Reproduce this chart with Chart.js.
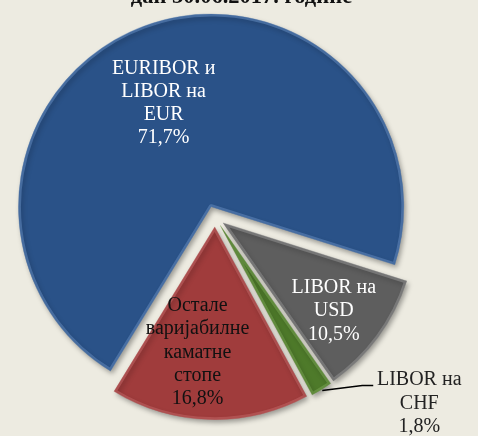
<!DOCTYPE html>
<html>
<head>
<meta charset="utf-8">
<script src="https://cdn.jsdelivr.net/npm/chart.js@4"></script>
<style>
  html, body { margin: 0; padding: 0; background: #EDEBE1; }
</style>
</head>
<body>
<canvas id="c" width="478" height="436"></canvas>
<script>
// ---- data ----
const titleText = 'дан 30.06.2017. године';
const categories = ['EURIBOR и LIBOR на EUR', 'LIBOR на USD', 'LIBOR на CHF', 'Остале варијабилне каматне стопе'];
const labelLines = [['EURIBOR и', 'LIBOR на', 'EUR'], ['LIBOR на', 'USD'], ['LIBOR на', 'CHF'], ['Остале', 'варијабилне', 'каматне', 'стопе']];
const shares = [71.7, 10.5, 1.8, 16.8];

// ---- styles ----
const fillColors = ['#2A5288', '#5E5E5E', '#4E7A2A', '#A03C3C'];
const edgeColors = ['rgba(110,150,205,0.45)', 'rgba(160,160,160,0.45)', 'rgba(130,175,90,0.45)', 'rgba(205,110,110,0.45)'];
const textColors = ['#FFFFFF', '#FFFFFF', '#222222', '#111111'];
const explode = [11, 10, 10, 10];            // px each slice is pulled out
const labelPlace = [[-4.2, 0.59], [2.25, 0.734], null, [6.3, 0.656]]; // [angle shift deg, distance / radius]

const fmt = v => v.toFixed(1).replace('.', ',') + '%';

const bgPlugin = {
  id: 'bg',
  beforeDraw(chart) {
    const ctx = chart.ctx;
    ctx.save();
    ctx.fillStyle = '#EDEBE1';
    ctx.fillRect(0, 0, chart.width, chart.height);
    ctx.restore();
  }
};

// pull every slice outward along its mid angle
const explodePlugin = {
  id: 'explode',
  afterDatasetUpdate(chart, args) {
    const meta = chart.getDatasetMeta(args.index);
    meta.data.forEach((el, i) => {
      const mid = (el.startAngle + el.endAngle) / 2;
      el.x += Math.cos(mid) * explode[i];
      el.y += Math.sin(mid) * explode[i];
    });
  }
};

const shadowPlugin = {
  id: 'sliceShadow',
  beforeDatasetDraw(chart) {
    const ctx = chart.ctx;
    ctx.save();
    ctx.shadowColor = 'rgba(0,0,0,0.35)';
    ctx.shadowBlur = 5;
    ctx.shadowOffsetX = 2;
    ctx.shadowOffsetY = 3;
  },
  afterDatasetDraw(chart) {
    chart.ctx.restore();
  }
};

const labelPlugin = {
  id: 'sliceLabels',
  afterDatasetsDraw(chart) {
    const ctx = chart.ctx;
    const meta = chart.getDatasetMeta(0);
    const lh = 23.3;
    ctx.save();
    ctx.font = "20px 'Liberation Serif', 'Times New Roman', serif";
    ctx.textAlign = 'center';
    ctx.textBaseline = 'middle';
    meta.data.forEach((el, i) => {
      const mid = (el.startAngle + el.endAngle) / 2;
      const lines = labelLines[i].concat([fmt(shares[i])]);
      let cx, cy;
      if (labelPlace[i]) {
        const a = mid + labelPlace[i][0] * Math.PI / 180;
        const d = labelPlace[i][1] * el.outerRadius;
        cx = el.x + Math.cos(a) * d;
        cy = el.y + Math.sin(a) * d;
      } else {
        const sx = el.x + Math.cos(mid) * (el.outerRadius + 1);
        const sy = el.y + Math.sin(mid) * (el.outerRadius + 1);
        const ex = sx + 40, ey = sy - 5;
        const fx = ex + 11;
        ctx.beginPath();
        ctx.moveTo(sx, sy);
        ctx.lineTo(ex, ey);
        ctx.lineTo(fx, ey);
        ctx.strokeStyle = '#000000';
        ctx.lineWidth = 1.5;
        ctx.stroke();
        cx = fx + 46;
        cy = ey + 18;
      }
      ctx.fillStyle = textColors[i];
      lines.forEach((t, k) => {
        ctx.fillText(t, cx, cy + (k - (lines.length - 1) / 2) * lh);
      });
    });
    ctx.restore();
  }
};

const titlePlugin = {
  id: 'cutTitle',
  afterDraw(chart) {
    const ctx = chart.ctx;
    ctx.save();
    ctx.font = "bold 22.5px 'Liberation Serif', 'Times New Roman', serif";
    ctx.textAlign = 'center';
    ctx.textBaseline = 'alphabetic';
    ctx.fillStyle = '#111111';
    ctx.fillText(titleText, 241.5, 3);
    ctx.restore();
  }
};

new Chart(document.getElementById('c'), {
  type: 'pie',
  data: {
    labels: categories,
    datasets: [{
      data: shares,
      backgroundColor: fillColors,
      borderColor: edgeColors,
      borderWidth: 2.5,
      borderAlign: 'inner',
      hoverOffset: 0
    }]
  },
  options: {
    responsive: false,
    animation: false,
    events: [],
    rotation: 211.5,
    radius: 193,
    layout: { padding: { left: 0, right: 48, top: 0, bottom: 2 } },
    plugins: {
      legend: { display: false },
      tooltip: { enabled: false },
      title: { display: false }
    }
  },
  plugins: [bgPlugin, explodePlugin, shadowPlugin, labelPlugin, titlePlugin]
});
</script>
</body>
</html>
